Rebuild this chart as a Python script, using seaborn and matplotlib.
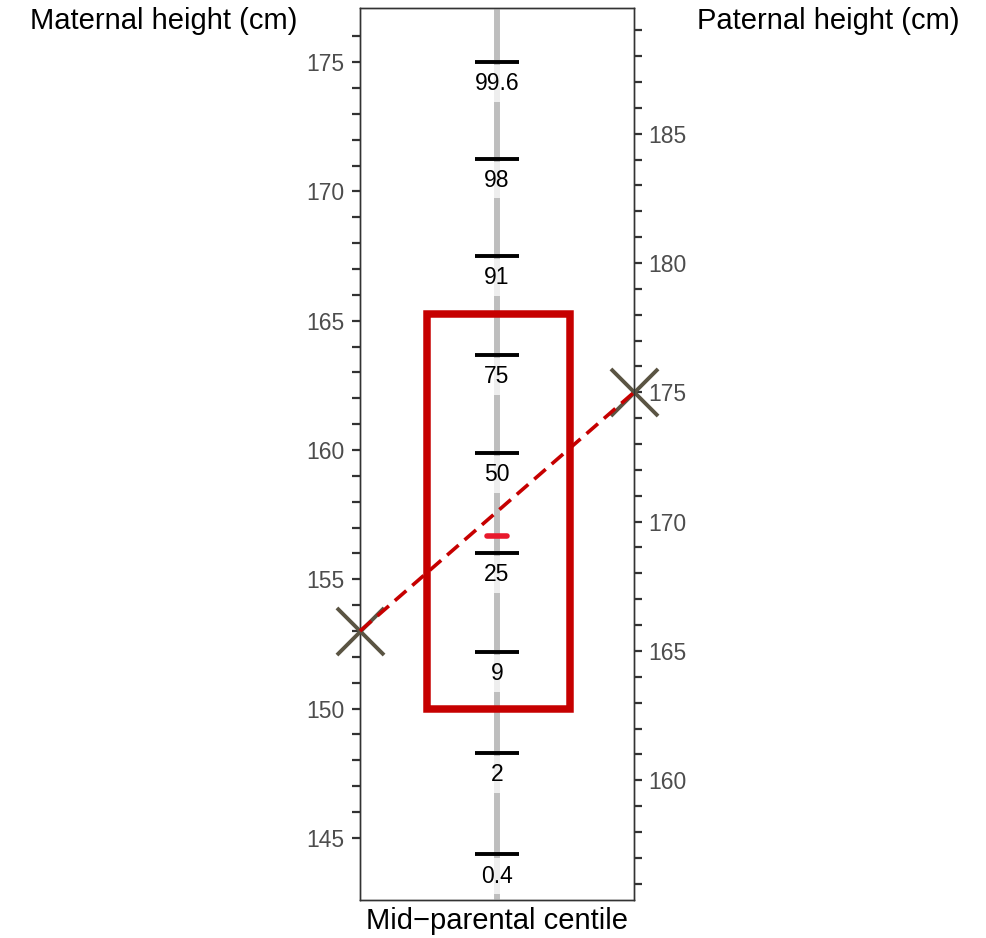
import numpy as np
import pandas as pd
import matplotlib
matplotlib.use("Agg")
import matplotlib.pyplot as plt
from matplotlib.patches import Rectangle
import seaborn as sns

# ---- data ----
centile_labels = ["0.4", "2", "9", "25", "50", "75", "91", "98", "99.6"]
centile_heights = [144.36, 148.29, 152.19, 156.03, 159.89, 163.67, 167.50, 171.27, 175.0]  # maternal scale
maternal_height = 153.0
paternal_height = 175.0
paternal_offset = 12.77          # paternal scale = maternal scale + offset
midparental_height = 156.68      # maternal scale
target_range = [150.0, 165.25]   # maternal scale
maternal_ticks = list(range(145, 176, 5))
maternal_minor = [v for v in range(145, 177) if v % 5]
paternal_ticks = list(range(160, 186, 5))
paternal_minor = [v for v in range(156, 190) if v % 5]

sns.set_theme(style="white")
plt.rcParams["font.family"] = ["Liberation Sans", "DejaVu Sans"]

fig = plt.figure(figsize=(9.87, 9.38), dpi=100)
ax = fig.add_axes([360 / 987, 38 / 938, 274 / 987, 892 / 938])
ymin, ymax = 142.60, 177.09
ax.set_xlim(0, 1)
ax.set_ylim(ymin, ymax)

# central grey line
ax.axvline(0.5, color="#bebebe", lw=4.3, zorder=1)

# centile ticks and labels
cdf = pd.DataFrame({"centile": centile_labels, "height": centile_heights})
ax.hlines(cdf["height"], 0.42, 0.58, color="black", lw=2.8, zorder=3)
for lab, h in zip(cdf["centile"], cdf["height"]):
    ax.annotate(lab, xy=(0.5, h), xytext=(0, -15.5), textcoords="offset points",
                ha="center", va="center", fontsize=16.5, color="black", zorder=2,
                bbox=dict(boxstyle="square,pad=0.3", fc="white", ec="none", alpha=0.75))

# target range rectangle
rect = Rectangle((0.243, target_range[0]), 0.766 - 0.243, target_range[1] - target_range[0],
                 fill=False, ec="#c60000", lw=5.4, joinstyle="miter", zorder=4)
ax.add_patch(rect)

# parental markers
ax2 = ax.twinx()
ax2.set_ylim(ymin + paternal_offset, ymax + paternal_offset)
mcol = "#5a5443"
sns.scatterplot(x=[0.0], y=[maternal_height], marker="x", s=1150, color=mcol,
                linewidth=2.8, ax=ax, zorder=5, clip_on=False, legend=False)
sns.scatterplot(x=[1.0], y=[paternal_height], marker="x", s=1150, color=mcol,
                linewidth=2.8, ax=ax2, zorder=5, clip_on=False, legend=False)

# dashed line joining parents (in maternal scale)
ax.plot([0.0, 1.0], [maternal_height, paternal_height - paternal_offset],
        color="#c60000", lw=2.6, linestyle=(0, (4.2, 2.2)), zorder=6, clip_on=False)

# mid-parental height
ax.plot([0.465, 0.535], [midparental_height, midparental_height], color="#e8192c",
        lw=4.0, solid_capstyle="round", zorder=7)

ax.set_zorder(ax2.get_zorder() + 1)
ax.patch.set_visible(False)

# axes styling
for a in (ax, ax2):
    for s in a.spines.values():
        s.set_color("#333333")
        s.set_linewidth(1.0)
    a.set_xticks([])
    a.set_ylabel("")
    a.set_xlabel("")

ax.set_yticks(maternal_ticks)
ax.set_yticks(maternal_minor, minor=True)
ax.tick_params(axis="y", which="both", left=True, right=False, length=5.5, width=1.6,
               color="#333333", labelsize=16.5, labelcolor="#4d4d4d", pad=5.5, direction="out")
ax2.set_yticks(paternal_ticks)
ax2.set_yticks(paternal_minor, minor=True)
ax2.tick_params(axis="y", which="both", right=True, left=False, length=5.5, width=1.6,
                color="#333333", labelsize=16.5, labelcolor="#4d4d4d", pad=5, direction="out")

fig.text(297 / 987, 1 - 21 / 938, "Maternal height (cm)", ha="right", va="center",
         fontsize=21, color="black")
fig.text(697 / 987, 1 - 21 / 938, "Paternal height (cm)", ha="left", va="center",
         fontsize=21, color="black")
fig.text(497 / 987, 1 - 921 / 938, "Mid\u2212parental centile", ha="center", va="center",
         fontsize=21, color="black")

fig.savefig("out.png", dpi=100)
